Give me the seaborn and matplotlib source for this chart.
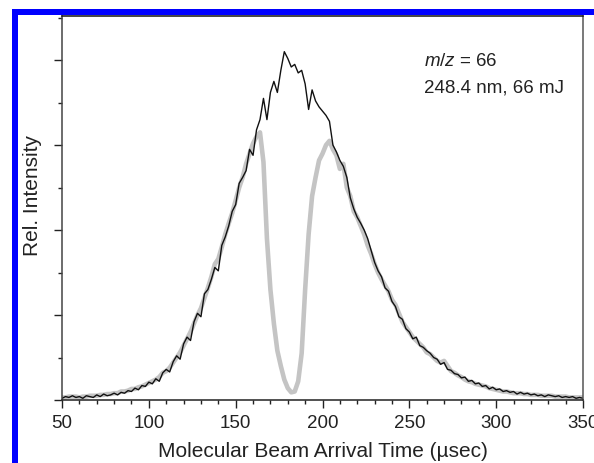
import numpy as np
import pandas as pd
import matplotlib
matplotlib.use('Agg')
import matplotlib.pyplot as plt
import seaborn as sns
from matplotlib.patches import Rectangle
from matplotlib.ticker import MultipleLocator, NullFormatter

sns.set_theme(style="ticks")
plt.rcParams['font.family'] = ['Liberation Sans', 'DejaVu Sans']
plt.rcParams['mathtext.fontset'] = 'custom'
plt.rcParams['mathtext.rm'] = 'Liberation Sans'
plt.rcParams['mathtext.it'] = 'Liberation Sans:italic'

# --- dados (tempo de chegada em µs, intensidade relativa) ---
time_us = np.arange(50, 351, 2)

# sinal sem laser de fotólise (linha preta, fina)
signal_black = [
    0.02, 0.04, 0.03, 0.05, 0.03, 0.04, 0.02, 0.05, 0.04, 0.03,   # 50-68
    0.06, 0.04, 0.07, 0.05, 0.06, 0.08, 0.06, 0.09, 0.08, 0.11,   # 70-88
    0.10, 0.14, 0.12, 0.17, 0.16, 0.21, 0.19, 0.25, 0.22, 0.32,   # 90-108
    0.36, 0.33, 0.45, 0.52, 0.48, 0.66, 0.74, 0.70, 0.92, 1.02,   # 110-128
    0.98, 1.25, 1.30, 1.42, 1.56, 1.52, 1.82, 1.92, 2.05, 2.22,   # 130-148
    2.30, 2.55, 2.62, 2.70, 2.95, 2.88, 3.18, 3.30, 3.55, 3.30,   # 150-168
    3.62, 3.75, 3.62, 3.88, 4.10, 4.02, 3.92, 3.95, 3.85, 3.88,   # 170-188
    3.72, 3.42, 3.65, 3.52, 3.45, 3.40, 3.35, 3.28, 3.00, 2.92,   # 190-208
    2.82, 2.75, 2.62, 2.38, 2.25, 2.15, 2.08, 2.00, 1.90, 1.76,   # 210-228
    1.62, 1.52, 1.45, 1.32, 1.28, 1.16, 1.10, 0.98, 0.95, 0.84,   # 230-248
    0.80, 0.72, 0.74, 0.64, 0.62, 0.58, 0.55, 0.50, 0.48, 0.42,   # 250-268
    0.44, 0.36, 0.35, 0.31, 0.30, 0.26, 0.27, 0.22, 0.23, 0.19,   # 270-288
    0.20, 0.16, 0.17, 0.13, 0.15, 0.12, 0.13, 0.10, 0.11, 0.09,   # 290-308
    0.10, 0.07, 0.09, 0.07, 0.08, 0.06, 0.07, 0.05, 0.06, 0.04,   # 310-328
    0.06, 0.05, 0.04, 0.05, 0.03, 0.04, 0.03, 0.04, 0.02, 0.03,   # 330-348
    0.02,                                                         # 350
]

# sinal com laser de fotólise (linha cinza, grossa) — depleção em ~180 µs
signal_gray = [
    0.03, 0.03, 0.04, 0.04, 0.04, 0.03, 0.04, 0.04, 0.05, 0.05,   # 50-68
    0.05, 0.06, 0.06, 0.07, 0.07, 0.08, 0.08, 0.10, 0.10, 0.11,   # 70-88
    0.13, 0.13, 0.15, 0.16, 0.18, 0.20, 0.22, 0.24, 0.27, 0.32,   # 90-108
    0.34, 0.38, 0.44, 0.50, 0.56, 0.64, 0.72, 0.80, 0.90, 1.00,   # 110-128
    1.08, 1.20, 1.32, 1.45, 1.60, 1.66, 1.80, 1.95, 2.08, 2.20,   # 130-148
    2.35, 2.50, 2.62, 2.78, 2.90, 3.02, 3.10, 3.15, 2.80, 1.90,   # 150-168
    1.30, 0.90, 0.58, 0.40, 0.24, 0.14, 0.09, 0.10, 0.22, 0.55,   # 170-188
    1.30, 1.95, 2.40, 2.62, 2.82, 2.90, 3.00, 3.05, 2.95, 2.88,   # 190-208
    2.72, 2.78, 2.50, 2.40, 2.22, 2.15, 2.05, 1.95, 1.82, 1.72,   # 210-228
    1.60, 1.50, 1.42, 1.35, 1.28, 1.18, 1.12, 1.02, 0.92, 0.86,   # 230-248
    0.80, 0.74, 0.70, 0.66, 0.62, 0.56, 0.54, 0.50, 0.46, 0.44,   # 250-268
    0.46, 0.40, 0.34, 0.32, 0.29, 0.27, 0.24, 0.22, 0.21, 0.19,   # 270-288
    0.18, 0.17, 0.16, 0.14, 0.13, 0.12, 0.11, 0.10, 0.10, 0.09,   # 290-308
    0.08, 0.08, 0.08, 0.07, 0.07, 0.06, 0.06, 0.06, 0.05, 0.05,   # 310-328
    0.05, 0.05, 0.04, 0.04, 0.04, 0.04, 0.03, 0.03, 0.03, 0.03,   # 330-348
    0.03,                                                         # 350
]

xtick_vals = [50, 100, 150, 200, 250, 300, 350]
ytick_vals = [0, 1, 2, 3, 4]
annot_lines = ['$m/z$ = 66', '248.4 nm, 66 mJ']

df = pd.DataFrame({'t': time_us, 'black': signal_black, 'gray': signal_gray})

fig = plt.figure(figsize=(5.94, 4.64), dpi=100)
ax = fig.add_axes([0.1044, 0.1358, 0.8771, 0.8276])

sns.lineplot(data=df, x='t', y='gray', ax=ax, color='#c4c4c4', lw=3.3)
sns.lineplot(data=df, x='t', y='black', ax=ax, color='#111111', lw=1.0)

ax.set_xlim(50, 350)
ax.set_ylim(0, 4.52)
ax.set_xticks(xtick_vals)
ax.xaxis.set_minor_locator(MultipleLocator(10))
ax.set_yticks(ytick_vals)
ax.yaxis.set_minor_locator(MultipleLocator(0.5))
ax.yaxis.set_major_formatter(NullFormatter())
ax.tick_params(axis='both', which='major', direction='out', length=6,
               width=1.0, color='#222222', labelsize=13.5, pad=4,
               labelcolor='#222222')
ax.tick_params(axis='both', which='minor', direction='out', length=3,
               width=1.0, color='#222222')

for side, col in [('left', '#444444'), ('bottom', '#222222'),
                  ('top', '#111111'), ('right', '#555555')]:
    ax.spines[side].set_color(col)
    ax.spines[side].set_linewidth(1.1)

ax.set_xlabel('Molecular Beam Arrival Time (µsec)', fontsize=15,
              color='#222222', labelpad=7)
ax.set_ylabel('Rel. Intensity', fontsize=15, color='#222222')
ax.yaxis.set_label_coords(-0.038, 0.536)

ax.text(0.695, 0.883, annot_lines[0], transform=ax.transAxes,
        fontsize=13.5, color='#222222', ha='left', va='center')
ax.text(0.695, 0.815, annot_lines[1], transform=ax.transAxes,
        fontsize=13.5, color='#222222', ha='left', va='center')

# moldura azul da figura original
fig.add_artist(Rectangle((0.0202, 0.9655), 0.98, 0.0130,
                         transform=fig.transFigure, color='#0000ff', lw=0))
fig.add_artist(Rectangle((0.0202, 0.0), 0.0101, 0.9784,
                         transform=fig.transFigure, color='#0000ff', lw=0))
fig.add_artist(Rectangle((0.0, 0.9975), 1.0, 0.0025,
                         transform=fig.transFigure, color='#2a6db5', lw=0))

fig.savefig('out.png', dpi=100)
